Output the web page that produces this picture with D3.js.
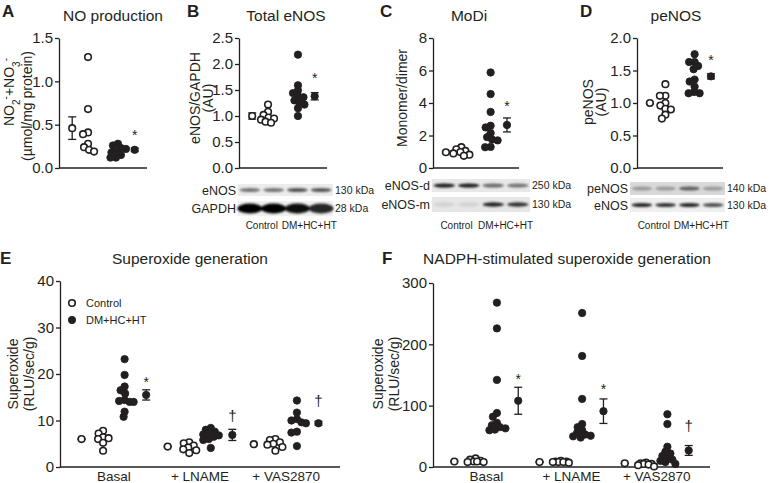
<!DOCTYPE html>
<html><head><meta charset="utf-8">
<script src="https://cdn.jsdelivr.net/npm/d3@7"></script>
<style>
body{margin:0;background:#fff}
svg{display:block}
text{font-family:"Liberation Sans",Arial,sans-serif;fill:#231f20}
</style>
</head><body><svg id="c" width="772" height="483"></svg>
<script>
// ---------------- DATA ----------------
const groups = ["Control", "DM+HC+HT"];

// A: NO production (µmol/mg protein)
const noCtrl = [1.28, 0.68, 0.41, 0.39, 0.28, 0.24, 0.21, 0.19];
const noDm = [0.28, 0.26, 0.23, 0.22, 0.19, 0.18, 0.15, 0.12, 0.12];
const noMean = [0.46, 0.21];
const noSem = [0.13, 0.02];
const noTicks = [0, 0.5, 1.0, 1.5];

// B: Total eNOS (eNOS/GAPDH, AU)
const enosCtrl = [1.22, 1.08, 1.02, 0.97, 0.95, 0.93, 0.89, 0.87];
const enosDm = [2.18, 1.59, 1.49, 1.44, 1.38, 1.36, 1.30, 1.25, 1.22, 1.15, 1.00];
const enosMean = [1.0, 1.38];
const enosSem = [0.06, 0.07];
const enosTicks = [0, 0.5, 1.0, 1.5, 2.0, 2.5];

// C: MoDi (monomer/dimer)
const modiCtrl = [1.28, 1.15, 1.05, 0.98, 0.90, 0.82, 0.75];
const modiDm = [5.88, 4.55, 3.45, 2.60, 2.50, 2.15, 1.90, 1.75, 1.70, 1.30, 1.28];
const modiMean = [0.97, 2.65];
const modiSem = [0.05, 0.43];
const modiTicks = [0, 2, 4, 6, 8];

// D: peNOS (AU)
const penosCtrl = [1.29, 1.11, 1.11, 1.00, 0.96, 0.91, 0.90, 0.82, 0.76];
const penosDm = [1.75, 1.63, 1.63, 1.57, 1.52, 1.36, 1.33, 1.25, 1.17, 1.15, 1.15];
const penosMean = [1.0, 1.41];
const penosSem = [0.01, 0.04];
const penosTicks = [0, 0.5, 1.0, 1.5, 2.0];

// significance marks (symbol, value at glyph centre)
const sigABCD = [["*", 0.415], ["*", 1.78], ["*", 3.96], ["*", 1.70]];

// E: Superoxide generation (RLU/sec/g)
const treatments = ["Basal", "+ LNAME", "+ VAS2870"];
const supCtrl = [
  [7.8, 7.2, 6.4, 6.2, 6.0, 5.2, 3.5],
  [5.3, 5.1, 4.6, 4.2, 3.8, 3.6, 3.0],
  [6.0, 5.8, 5.3, 5.0, 4.8, 4.3, 3.5]
];
const supDm = [
  [23.2, 19.8, 17.3, 16.5, 15.8, 14.4, 14.2, 14.0, 14.0, 11.9, 10.8],
  [8.4, 8.0, 7.6, 7.2, 7.0, 6.8, 6.5, 6.0, 5.8, 4.1],
  [14.3, 11.7, 10.3, 10.0, 9.6, 9.4, 7.6, 7.4, 4.5]
];
const supCtrlMean = [6.0, 4.4, 4.9];
const supCtrlSem = [0.1, 0.1, 0.1];
const supDmMean = [15.5, 6.9, 9.4];
const supDmSem = [1.1, 1.2, 0.4];
const supSig = [["*", 18.9], ["†", 10.8], ["†", 14.0]];
const supTicks = [0, 10, 20, 30, 40];

// F: NADPH-stimulated superoxide generation (RLU/sec/g)
const nadCtrl = [
  [14, 12, 10, 9, 8, 8, 9],
  [10, 9, 8, 8, 8, 7, 9],
  [7, 6, 5, 5, 4, 3, 1]
];
const nadDm = [
  [268, 226, 142, 88, 82, 72, 68, 65, 63, 61, 60],
  [251, 181, 111, 70, 65, 60, 56, 53, 51, 50, 48],
  [86, 70, 33, 25, 22, 18, 15, 12, 10, 8, 5]
];
const nadCtrlMean = [9, 8, 6];
const nadCtrlSem = [1, 0.5, 0.5];
const nadDmMean = [108, 91, 27];
const nadDmSem = [22, 20, 8];
const nadSig = [["*", 148], ["*", 131], ["†", 66]];
const nadTicks = [0, 100, 200, 300];

// Western blot band intensities (4 lanes: 2 Control, 2 DM+HC+HT)
const blotB = [["eNOS", "130 kDa", [0.55, 0.55, 0.7, 0.68]], ["GAPDH", "28 kDa", [1, 1, 0.95, 0.85]]];
const blotC = [["eNOS-d", "250 kDa", [0.9, 0.9, 0.6, 0.55]], ["eNOS-m", "130 kDa", [0.15, 0.15, 0.85, 0.8]]];
const blotD = [["peNOS", "140 kDa", [0.4, 0.4, 0.65, 0.4]], ["eNOS", "130 kDa", [0.85, 0.8, 0.85, 0.7]]];

// ---------------- DRAWING ----------------
const svg = d3.select("#c");
const INK = "#231f20";
const R = 3.7;
const defs = svg.append("defs");
defs.append("filter").attr("id", "blur").attr("x", "-20%").attr("y", "-50%").attr("width", "140%").attr("height", "200%")
  .append("feGaussianBlur").attr("stdDeviation", 0.9);

// compact beeswarm: dots may overlap, spread limited to ±maxW px
function swarm(vals, y, cx, minDist, maxW) {
  const pts = vals.map(v => ({v, y: y(v)})).sort((a, b) => a.y - b.y);
  const placed = [];
  for (const p of pts) {
    let x = null, bestX = cx, bestD = -1;
    for (let k = 0; k <= maxW * 4; k++) {
      const off = (k % 2 === 1 ? -1 : 1) * Math.ceil(k / 2) * 0.5;
      const cand = cx + off;
      const dmin = placed.length ? d3.min(placed, q => Math.hypot(q.x - cand, q.y - p.y)) : Infinity;
      if (dmin >= minDist) { x = cand; break; }
      if (dmin > bestD + 0.01) { bestD = dmin; bestX = cand; }
    }
    p.x = x === null ? bestX : x; placed.push(p);
  }
  return placed;
}

function dots(g, pts, filled) {
  g.selectAll(null).data(pts).join("circle")
    .attr("cx", d => d.x).attr("cy", d => d.y).attr("r", filled ? R : R - 0.4)
    .attr("fill", filled ? INK : "#fff").attr("stroke", INK).attr("stroke-width", filled ? 0.8 : 1.6);
}

function meanBar(g, x, y, m, s, filled) {
  const lo = y(m - s), hi = y(m + s);
  g.append("line").attr("x1", x).attr("x2", x).attr("y1", lo).attr("y2", hi).attr("stroke", INK).attr("stroke-width", 1.3);
  [lo, hi].forEach(yy => g.append("line").attr("x1", x - 4).attr("x2", x + 4).attr("y1", yy).attr("y2", yy).attr("stroke", INK).attr("stroke-width", 1.3));
  g.append("circle").attr("cx", x).attr("cy", y(m)).attr("r", filled ? R : R - 0.4)
    .attr("fill", filled ? INK : "#fff").attr("stroke", INK).attr("stroke-width", filled ? 0.8 : 1.6);
}

function sigMark(g, x, y, sym, v) {
  g.append("text").attr("x", x).attr("y", y(v)).attr("dy", sym === "*" ? "0.55em" : "0.3em")
    .attr("text-anchor", "middle").attr("fill", INK).style("font-size", sym === "*" ? "14px" : "15px").text(sym);
}

function yAxis(g, x0, y, ticks, fmt, fs) {
  const ax = g.append("g").attr("transform", `translate(${x0},0)`)
    .call(d3.axisLeft(y).tickValues(ticks).tickFormat(fmt).tickSize(4).tickSizeOuter(0).tickPadding(2));
  ax.select(".domain").attr("stroke", INK).attr("stroke-width", 1.3);
  ax.selectAll(".tick line").attr("stroke", INK).attr("stroke-width", 1.3);
  ax.selectAll(".tick text").attr("fill", INK).style("font-size", fs + "px").style("font-family", "Liberation Sans, Arial, sans-serif");
}

function rotLabel(g, x, y, txt, fs) {
  return g.append("text").attr("transform", `translate(${x},${y}) rotate(-90)`)
    .attr("text-anchor", "middle").style("font-size", fs + "px").text(txt);
}

function letter(x, y, t) {
  svg.append("text").attr("x", x).attr("y", y).style("font-size", "17px").style("font-weight", "bold").text(t);
}
function title(x, y, t) {
  svg.append("text").attr("x", x).attr("y", y).attr("text-anchor", "middle").style("font-size", "15.5px").text(t);
}

// ---- small panels A–D ----
const slotFrac = [0.15, 0.33, 0.67, 0.86];
function smallPanel(cfg) {
  const g = svg.append("g");
  const x = d3.scaleLinear().domain([0, 1]).range([cfg.x0, cfg.x1]);
  const y = d3.scaleLinear().domain([0, cfg.max]).range([168, 38]);
  yAxis(g, cfg.x0, y, cfg.ticks, cfg.fmt, 15);
  g.append("line").attr("x1", x(0)).attr("x2", x(1)).attr("y1", y(0)).attr("y2", y(0)).attr("stroke", INK).attr("stroke-width", 1.3);
  meanBar(g, x(slotFrac[0]), y, cfg.mean[0], cfg.sem[0], false);
  dots(g, swarm(cfg.ctrl, y, x(slotFrac[1]), 5.2, 8), false);
  dots(g, swarm(cfg.dm, y, x(slotFrac[2]), 5.2, 8), true);
  meanBar(g, x(slotFrac[3]), y, cfg.mean[1], cfg.sem[1], true);
  sigMark(g, x(slotFrac[3]), y, cfg.sig[0], cfg.sig[1]);
  return g;
}

const fmt1 = d3.format(".1f"), fmt0 = d3.format("d");
smallPanel({x0: 59, x1: 147, max: 1.5, ticks: noTicks, fmt: fmt1, ctrl: noCtrl, dm: noDm, mean: noMean, sem: noSem, sig: sigABCD[0]});
smallPanel({x0: 239, x1: 327, max: 2.5, ticks: enosTicks, fmt: fmt1, ctrl: enosCtrl, dm: enosDm, mean: enosMean, sem: enosSem, sig: sigABCD[1]});
smallPanel({x0: 433, x1: 519, max: 8, ticks: modiTicks, fmt: fmt0, ctrl: modiCtrl, dm: modiDm, mean: modiMean, sem: modiSem, sig: sigABCD[2]});
smallPanel({x0: 637, x1: 723, max: 2.0, ticks: penosTicks, fmt: fmt1, ctrl: penosCtrl, dm: penosDm, mean: penosMean, sem: penosSem, sig: sigABCD[3]});

letter(2, 17, "A"); letter(187, 17, "B"); letter(380, 17, "C"); letter(580, 17, "D");
title(113, 21, "NO production"); title(286, 21, "Total eNOS"); title(469, 21, "MoDi"); title(676, 21, "peNOS");

// A y label with sub/superscripts
{
  const t = svg.append("text").attr("transform", "translate(14,92) rotate(-90)").attr("text-anchor", "middle").style("font-size", "14px");
  t.append("tspan").text("NO");
  t.append("tspan").attr("baseline-shift", "sub").style("font-size", "10px").text("2");
  t.append("tspan").attr("baseline-shift", "super").style("font-size", "10px").text("-");
  t.append("tspan").text("+NO");
  t.append("tspan").attr("baseline-shift", "sub").style("font-size", "10px").text("3");
  t.append("tspan").attr("baseline-shift", "super").style("font-size", "10px").text("-");
  rotLabel(svg, 32, 106, "(µmol/mg protein)", 14);
}
rotLabel(svg, 200, 98, "eNOS/GAPDH", 14);
rotLabel(svg, 213, 98, "(AU)", 14);
rotLabel(svg, 407, 98, "Monomer/dimer", 14);
rotLabel(svg, 593, 102, "peNOS", 14);
rotLabel(svg, 606, 102, "(AU)", 14);

// ---- western blots ----
function drawBlot(cfg) {
  const g = svg.append("g");
  const lanes = d3.scaleBand().domain(d3.range(4)).range([cfg.x0, cfg.x1]).paddingInner(0.12).paddingOuter(0.06);
  cfg.rows.forEach((row, i) => {
    const [lab, kda, vals] = cfg.data[i];
    g.append("rect").attr("x", cfg.x0).attr("y", row.y).attr("width", cfg.x1 - cfg.x0).attr("height", row.h).attr("fill", row.bg);
    const band = g.append("g").attr("filter", "url(#blur)");
    band.selectAll(null).data(vals).join("ellipse")
      .attr("cx", (d, j) => lanes(j) + lanes.bandwidth() / 2)
      .attr("cy", row.y + row.h / 2)
      .attr("rx", lanes.bandwidth() / 2 + (row.big ? 2 : 0))
      .attr("ry", row.bh / 2)
      .attr("fill", d => d3.interpolateGreys(0.15 + 0.85 * d));
    g.append("text").attr("x", cfg.x0 - 2).attr("y", row.y + row.h / 2).attr("dy", "0.36em").attr("text-anchor", "end").style("font-size", "12.5px").text(lab);
    g.append("text").attr("x", cfg.x1 + 2).attr("y", row.y + row.h / 2).attr("dy", "0.36em").style("font-size", "10.5px").text(kda);
  });
  const gl = d3.scaleBand().domain(groups).range([cfg.x0, cfg.x1]);
  g.selectAll(".gl").data(groups).join("text")
    .attr("x", d => gl(d) + gl.bandwidth() / 2).attr("y", 229).attr("text-anchor", "middle").style("font-size", "10px").text(d => d);
}
drawBlot({x0: 238, x1: 333, data: blotB, rows: [{y: 184, h: 12, bg: "#ececec", bh: 4}, {y: 201, h: 15, bg: "#f0f0f0", bh: 10, big: true}]});
drawBlot({x0: 432, x1: 530, data: blotC, rows: [{y: 179, h: 13, bg: "#e8e8e8", bh: 4}, {y: 197, h: 15, bg: "#e6e6e6", bh: 4.5}]});
drawBlot({x0: 630, x1: 725, data: blotD, rows: [{y: 182, h: 13, bg: "#d9d9d9", bh: 4}, {y: 198, h: 14, bg: "#efefef", bh: 4}]});

// ---- big panels E, F ----
function bigPanel(cfg) {
  const g = svg.append("g");
  const x = d3.scaleLinear().domain([0, 13]).range([cfg.x0, cfg.x1]);
  const y = d3.scaleLinear().domain([0, cfg.max]).range([467, cfg.yTop]);
  yAxis(g, cfg.x0, y, cfg.ticks, fmt0, 15);
  g.append("line").attr("x1", x(0)).attr("x2", x(13)).attr("y1", y(0)).attr("y2", y(0)).attr("stroke", INK).attr("stroke-width", 1.3);
  treatments.forEach((t, k) => {
    const b = 1 + 4 * k;
    meanBar(g, x(b), y, cfg.cMean[k], cfg.cSem[k], false);
    dots(g, swarm(cfg.ctrl[k], y, x(b + 1), 5.2, 8), false);
    dots(g, swarm(cfg.dm[k], y, x(b + 2), 5.2, 9), true);
    meanBar(g, x(b + 3), y, cfg.dMean[k], cfg.dSem[k], true);
    sigMark(g, x(b + 3), y, cfg.sig[k][0], cfg.sig[k][1]);
    g.append("text").attr("x", x(b + 1.5)).attr("y", 481).attr("text-anchor", "middle").style("font-size", "13.5px").text(t);
  });
  return g;
}
bigPanel({x0: 60, x1: 340, yTop: 281, max: 40, ticks: supTicks,
  ctrl: supCtrl, dm: supDm, cMean: supCtrlMean, cSem: supCtrlSem, dMean: supDmMean, dSem: supDmSem, sig: supSig});
bigPanel({x0: 433, x1: 710, yTop: 283, max: 300, ticks: nadTicks,
  ctrl: nadCtrl, dm: nadDm, cMean: nadCtrlMean, cSem: nadCtrlSem, dMean: nadDmMean, dSem: nadDmSem, sig: nadSig});

letter(0, 264, "E"); letter(382, 264, "F");
title(190, 264, "Superoxide generation"); title(567, 264, "NADPH-stimulated superoxide generation");
rotLabel(svg, 18, 374, "Superoxide", 14);
rotLabel(svg, 34, 374, "(RLU/sec/g)", 14);
rotLabel(svg, 383, 374, "Superoxide", 14);
rotLabel(svg, 399, 374, "(RLU/sec/g)", 14);

// legend
{
  const lg = svg.append("g");
  groups.forEach((gname, i) => {
    const yy = 303 + i * 17;
    lg.append("circle").attr("cx", 72).attr("cy", yy).attr("r", i ? R : R - 0.4)
      .attr("fill", i ? INK : "#fff").attr("stroke", INK).attr("stroke-width", i ? 0.8 : 1.6);
    lg.append("text").attr("x", 86).attr("y", yy).attr("dy", "0.36em").style("font-size", "11px").text(gname);
  });
}
</script>
</body></html>
